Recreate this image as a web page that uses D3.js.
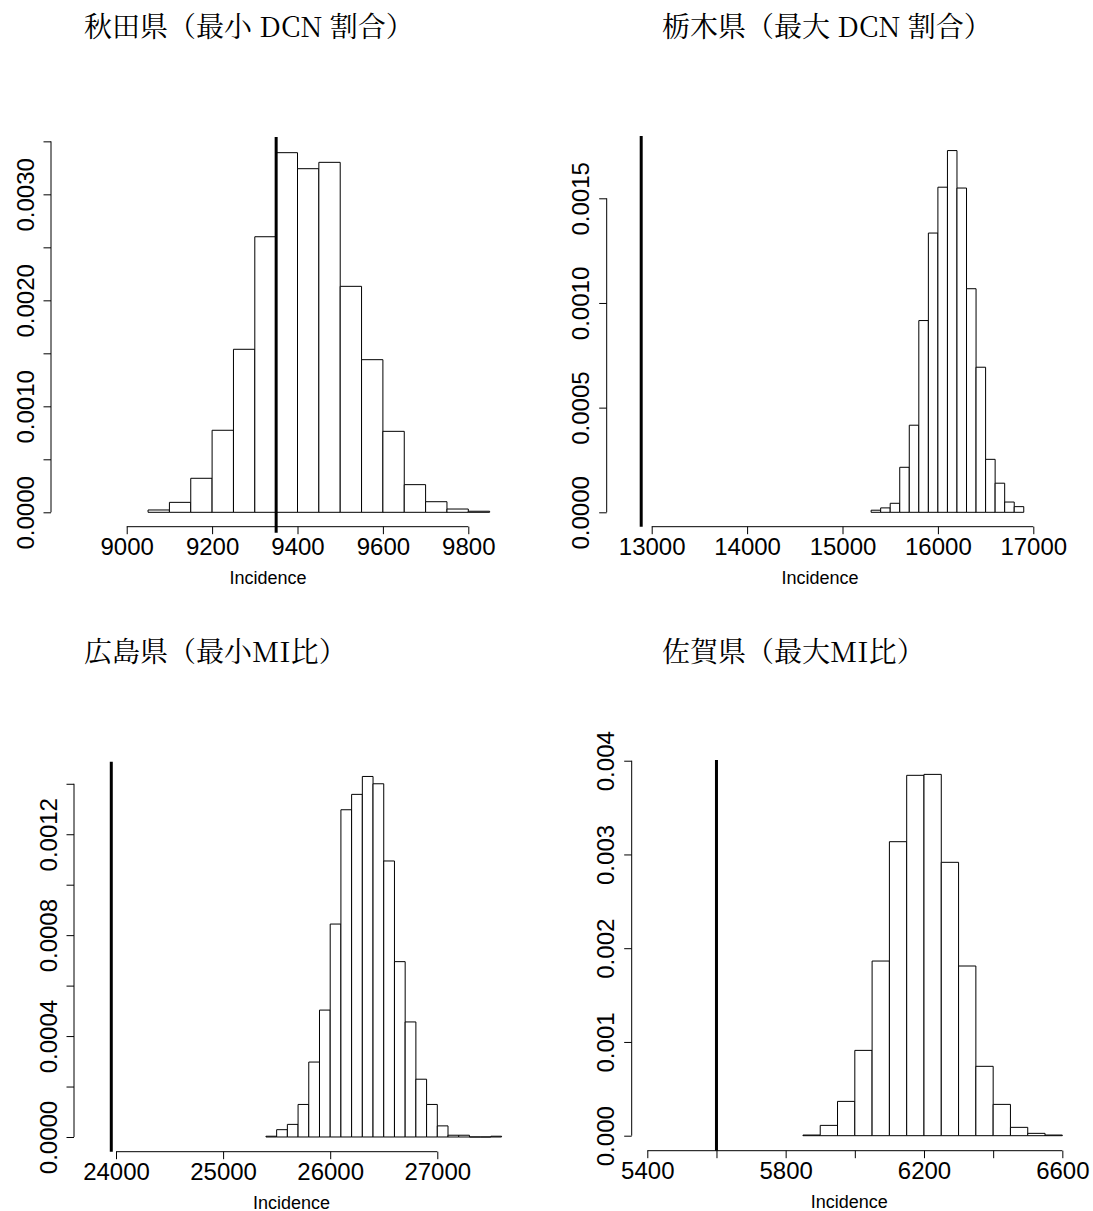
<!DOCTYPE html>
<html>
<head>
<meta charset="utf-8">
<script src="https://cdn.jsdelivr.net/npm/d3@7"></script>
<style>
  html, body { margin: 0; padding: 0; background: #fff; }
  svg { display: block; }
</style>
</head>
<body>
<svg id="chart" width="1093" height="1211"></svg>
<script>
// ---------------- DATA ----------------
const titles = [
  "秋田県（最小 DCN 割合）",
  "栃木県（最大 DCN 割合）",
  "広島県（最小MI比）",
  "佐賀県（最大MI比）"
];
const xLabel = "Incidence";

// Panel 1: 秋田県
const akitaBreaks = [9050, 9100, 9150, 9200, 9250, 9300, 9350, 9400, 9450, 9500, 9550, 9600, 9650, 9700, 9750, 9800, 9850];
const akitaDensity = [0.000022, 0.000094, 0.000321, 0.000774, 0.001538, 0.0026, 0.003393, 0.003242, 0.003302, 0.002132, 0.00144, 0.000764, 0.000261, 0.0001, 0.000031, 0.00001];
const akitaObserved = 9350;
const akitaXTicks = [9000, 9200, 9400, 9600, 9800];
const akitaXTickLabels = ["9000", "9200", "9400", "9600", "9800"];
const akitaYTicks = [0, 0.0005, 0.001, 0.0015, 0.002, 0.0025, 0.003, 0.0035];
const akitaYTickLabels = ["0.0000", "", "0.0010", "", "0.0020", "", "0.0030", ""];

// Panel 2: 栃木県
const tochigiBreaks = [15300, 15400, 15500, 15600, 15700, 15800, 15900, 16000, 16100, 16200, 16300, 16400, 16500, 16600, 16700, 16800, 16900];
const tochigiDensity = [0.00001, 0.000021, 0.000043, 0.000215, 0.000416, 0.000916, 0.001334, 0.001553, 0.001728, 0.001549, 0.001068, 0.000693, 0.000253, 0.000139, 0.000049, 0.000027];
const tochigiObserved = 12890;
const tochigiXTicks = [13000, 14000, 15000, 16000, 17000];
const tochigiXTickLabels = ["13000", "14000", "15000", "16000", "17000"];
const tochigiYTicks = [0, 0.0005, 0.001, 0.0015];
const tochigiYTickLabels = ["0.0000", "0.0005", "0.0010", "0.0015"];

// Panel 3: 広島県
const hiroshimaBreaks = [25400, 25500, 25600, 25700, 25800, 25900, 26000, 26100, 26200, 26300, 26400, 26500, 26600, 26700, 26800, 26900, 27000, 27100, 27200, 27300, 27400, 27500, 27600];
const hiroshimaDensity = [0.000003, 0.000029, 0.00005, 0.000129, 0.000297, 0.000503, 0.000844, 0.001297, 0.001358, 0.001429, 0.0014, 0.001094, 0.000695, 0.000456, 0.000229, 0.000129, 0.000044, 0.000007, 0.000007, 0, 0, 0.000003];
const hiroshimaObserved = 23956;
const hiroshimaXTicks = [24000, 25000, 26000, 27000];
const hiroshimaXTickLabels = ["24000", "25000", "26000", "27000"];
const hiroshimaYTicks = [0, 0.0002, 0.0004, 0.0006, 0.0008, 0.001, 0.0012, 0.0014];
const hiroshimaYTickLabels = ["0.0000", "", "0.0004", "", "0.0008", "", "0.0012", ""];

// Panel 4: 佐賀県
const sagaBreaks = [5850, 5900, 5950, 6000, 6050, 6100, 6150, 6200, 6250, 6300, 6350, 6400, 6450, 6500, 6550, 6600];
const sagaDensity = [0.000007, 0.00011, 0.000366, 0.00091, 0.001863, 0.003136, 0.003844, 0.003854, 0.002916, 0.00181, 0.00074, 0.000334, 0.000089, 0.000025, 0.000007];
const sagaObserved = 5600;
const sagaXTicks = [5400, 5600, 5800, 6000, 6200, 6400, 6600];
const sagaXTickLabels = ["5400", "", "5800", "", "6200", "", "6600"];
const sagaYTicks = [0, 0.001, 0.002, 0.003, 0.004];
const sagaYTickLabels = ["0.000", "0.001", "0.002", "0.003", "0.004"];

// ---------------- LAYOUT ----------------
const panels = [
  { title: titles[0], titleX: 84, titleY: 37,
    breaks: akitaBreaks, density: akitaDensity, observed: akitaObserved,
    xTicks: akitaXTicks, xTickLabels: akitaXTickLabels, yTicks: akitaYTicks, yTickLabels: akitaYTickLabels,
    box: { left: 51, right: 485, top: 137, bottom: 526.7 }, lineExtra: 6,
    xDomain: [8822.7, 9839.1], yDomain: [-0.0001358, 0.003541] },
  { title: titles[1], titleX: 662, titleY: 37,
    breaks: tochigiBreaks, density: tochigiDensity, observed: tochigiObserved,
    xTicks: tochigiXTicks, xTickLabels: tochigiXTickLabels, yTicks: tochigiYTicks, yTickLabels: tochigiYTickLabels,
    box: { left: 606.7, right: 1033.3, top: 136, bottom: 526.7 }, lineExtra: 0,
    xDomain: [12528.3, 17000], yDomain: [-0.0000688, 0.0017976] },
  { title: titles[2], titleX: 84, titleY: 662,
    breaks: hiroshimaBreaks, density: hiroshimaDensity, observed: hiroshimaObserved,
    xTicks: hiroshimaXTicks, xTickLabels: hiroshimaXTickLabels, yTicks: hiroshimaYTicks, yTickLabels: hiroshimaYTickLabels,
    box: { left: 74, right: 509, top: 761.7, bottom: 1151.7 }, lineExtra: 0,
    xDomain: [23607.8, 27669.5], yDomain: [-0.0000583, 0.0014875] },
  { title: titles[3], titleX: 662, titleY: 662,
    breaks: sagaBreaks, density: sagaDensity, observed: sagaObserved,
    xTicks: sagaXTicks, xTickLabels: sagaXTickLabels, yTicks: sagaYTicks, yTickLabels: sagaYTickLabels,
    box: { left: 631.7, right: 1067, top: 760, bottom: 1150.7 }, lineExtra: 0,
    xDomain: [5354.9, 6613.5], yDomain: [-0.00016, 0.0040075] }
];

const svg = d3.select("#chart");
const tickFont = "'Liberation Sans', Arial, Helvetica, sans-serif";
const titleFont = "'Noto Serif CJK JP', 'Liberation Serif', 'Noto Sans CJK JP', serif";

panels.forEach(p => {
  const x = d3.scaleLinear().domain(p.xDomain).range([p.box.left, p.box.right]);
  const y = d3.scaleLinear().domain(p.yDomain).range([p.box.bottom, p.box.top]);
  const g = svg.append("g");

  // title
  g.append("text")
    .attr("x", p.titleX).attr("y", p.titleY)
    .attr("font-family", titleFont)
    .attr("font-size", 28)
    .attr("fill", "#000")
    .text(p.title);

  // histogram bars
  const bins = p.density.map((d, i) => ({ x0: p.breaks[i], x1: p.breaks[i + 1], d }));
  g.append("g").selectAll("path").data(bins).join("path")
    .attr("d", b => `M${x(b.x0)},${y(0)}V${y(b.d)}H${x(b.x1)}V${y(0)}Z`)
    .attr("fill", "#fff")
    .attr("stroke", "#000")
    .attr("stroke-width", 1);

  // observed vertical line
  g.append("line")
    .attr("x1", x(p.observed)).attr("x2", x(p.observed))
    .attr("y1", y(p.yDomain[1])).attr("y2", y(p.yDomain[0]) + p.lineExtra)
    .attr("stroke", "#000").attr("stroke-width", 3);

  // x axis
  const xAxis = d3.axisBottom(x).tickValues(p.xTicks).tickSize(7.5).tickSizeOuter(0)
    .tickFormat((d, i) => p.xTickLabels[i]);
  const gx = g.append("g").attr("transform", `translate(0,${p.box.bottom})`).call(xAxis);
  gx.select(".domain").attr("d", `M${x(p.xTicks[0])},0H${x(p.xTicks[p.xTicks.length - 1])}`)
    .attr("stroke", "#000");
  gx.selectAll(".tick line").attr("stroke", "#000");
  gx.selectAll(".tick text")
    .attr("y", 28).attr("dy", null)
    .attr("font-family", tickFont).attr("font-size", 24).attr("fill", "#000");

  // y axis
  const yAxis = d3.axisLeft(y).tickValues(p.yTicks).tickSize(7.5).tickSizeOuter(0)
    .tickFormat((d, i) => p.yTickLabels[i]);
  const gy = g.append("g").attr("transform", `translate(${p.box.left},0)`).call(yAxis);
  gy.select(".domain").attr("d", `M0,${y(p.yTicks[0])}V${y(p.yTicks[p.yTicks.length - 1])}`)
    .attr("stroke", "#000");
  gy.selectAll(".tick line").attr("stroke", "#000");
  gy.selectAll(".tick text")
    .attr("x", 0).attr("y", -17.5).attr("dy", null)
    .attr("transform", "rotate(-90)")
    .attr("text-anchor", "middle")
    .attr("font-family", tickFont).attr("font-size", 24).attr("fill", "#000");

  // x label
  g.append("text")
    .attr("x", (p.box.left + p.box.right) / 2)
    .attr("y", p.box.bottom + 57)
    .attr("text-anchor", "middle")
    .attr("font-family", tickFont).attr("font-size", 18).attr("fill", "#000")
    .text(xLabel);
});
</script>
</body>
</html>
